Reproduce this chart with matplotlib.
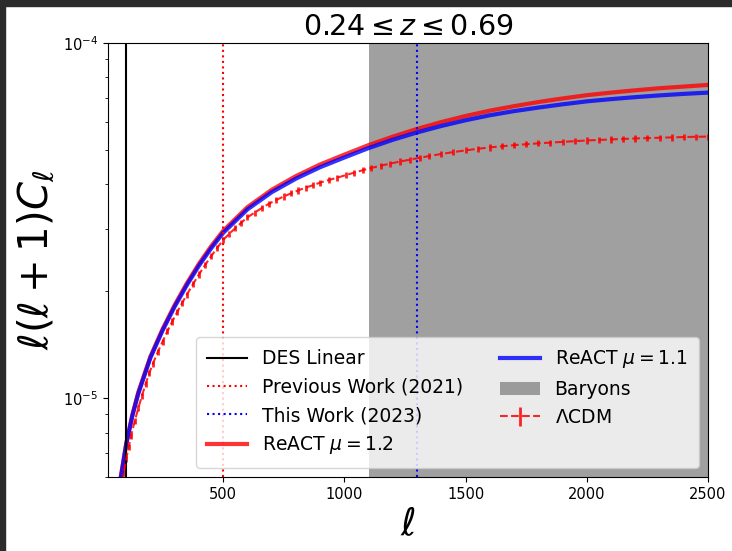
"""Lensing power spectrum, 0.24 <= z <= 0.69: ReACT mu=1.1/1.2 vs LCDM,
with the scale cuts and the baryon region marked.

    python plot.py
"""
import matplotlib
import numpy as np

matplotlib.use("Agg")
import matplotlib.pyplot as plt  # noqa: E402
from matplotlib.patches import Rectangle  # noqa: E402

# values, in units of 1e-5
ell_react = [50, 60, 75, 100, 125, 150, 200, 250, 300, 350, 400, 450, 500, 600,
             700, 800, 900, 1000, 1100, 1200, 1300, 1400, 1500, 1600, 1700, 1800,
             1900, 2000, 2100, 2200, 2300, 2400, 2500]
react_mu11 = [0.41, 0.48, 0.58, 0.74, 0.89, 1.03, 1.30, 1.55, 1.81, 2.08, 2.36, 2.64,
              2.92, 3.40, 3.80, 4.15, 4.47, 4.76, 5.06, 5.34, 5.60, 5.84, 6.06, 6.26,
              6.43, 6.58, 6.72, 6.85, 6.95, 7.04, 7.12, 7.19, 7.25]
react_mu12 = [0.41, 0.48, 0.585, 0.745, 0.895, 1.04, 1.31, 1.565, 1.83, 2.105, 2.39,
              2.675, 2.96, 3.45, 3.86, 4.22, 4.55, 4.85, 5.16, 5.45, 5.73, 5.99, 6.23,
              6.45, 6.64, 6.82, 6.98, 7.13, 7.25, 7.36, 7.46, 7.54, 7.62]

ell_lcdm = [60, 70, 80, 90, 100, 110, 120, 135, 150, 165, 180, 195, 210, 230, 250,
            270, 290, 310, 330, 350, 375, 400, 425, 450, 475, 500, 525, 550, 575, 600,
            630, 660, 690, 720, 750, 780, 810, 840, 870, 900, 935, 970, 1005, 1040,
            1075, 1110, 1150, 1190, 1230, 1270, 1310, 1350, 1400, 1450, 1500, 1550,
            1600, 1650, 1700, 1750, 1800, 1850, 1900, 1950, 2000, 2050, 2100, 2150,
            2200, 2250, 2300, 2350, 2400, 2450, 2500]
cl_lcdm = [0.437, 0.498, 0.557, 0.615, 0.673, 0.728, 0.783, 0.861, 0.937, 1.016, 1.095,
           1.176, 1.250, 1.347, 1.443, 1.543, 1.644, 1.745, 1.850, 1.955, 2.092, 2.230,
           2.369, 2.508, 2.648, 2.789, 2.903, 3.011, 3.121, 3.230, 3.330, 3.433, 3.531,
           3.618, 3.697, 3.774, 3.846, 3.916, 3.977, 4.045, 4.113, 4.175, 4.245, 4.314,
           4.382, 4.447, 4.514, 4.577, 4.640, 4.692, 4.752, 4.805, 4.871, 4.930, 4.987,
           5.036, 5.083, 5.120, 5.157, 5.188, 5.218, 5.243, 5.268, 5.292, 5.316, 5.334,
           5.352, 5.369, 5.386, 5.399, 5.411, 5.423, 5.436, 5.444, 5.452]
lcdm_rel_err = 0.02  # error bars are about +-2 %

ell_des_linear = 100
ell_previous = 500
ell_this_work = 1300
baryon_range = (1100, 2500)


def main() -> None:
    unit = 1e-5
    mu11 = np.array(react_mu11) * unit
    mu12 = np.array(react_mu12) * unit
    lcdm = np.array(cl_lcdm) * unit

    fig = plt.figure(figsize=(7.32, 5.51), dpi=100)
    ax = fig.add_axes([108 / 732, 1 - 477 / 551, 600 / 732, 434 / 551])

    # dark screenshot frame (top and left)
    fig.patches.append(Rectangle((0, 1 - 6 / 551), 1, 6 / 551, transform=fig.transFigure,
                                 color="#2b2b2b", zorder=10))
    fig.patches.append(Rectangle((0, 0), 5 / 732, 1, transform=fig.transFigure,
                                 color="#2b2b2b", zorder=10))

    bar = ax.axvspan(*baryon_range, color="gray", alpha=0.75, lw=0, label="Baryons")

    err = ax.errorbar(ell_lcdm, lcdm, yerr=lcdm * lcdm_rel_err, fmt="--", color="red",
                      alpha=0.85, lw=1.5, elinewidth=2, label=r"$\Lambda$CDM")
    l12, = ax.plot(ell_react, mu12, color="red", lw=3, alpha=0.8, label=r"ReACT $\mu = 1.2$")
    l11, = ax.plot(ell_react, mu11, color="blue", lw=3, alpha=0.8, label=r"ReACT $\mu = 1.1$")

    des = ax.axvline(ell_des_linear, color="black", lw=1.5, label="DES Linear")
    prev = ax.axvline(ell_previous, color="red", ls=":", lw=1.5, label="Previous Work (2021)")
    this = ax.axvline(ell_this_work, color="blue", ls=":", lw=1.5, label="This Work (2023)")

    ax.set_yscale("log")
    ax.set_xlim(25, 2500)
    ax.set_ylim(6e-6, 1e-4)
    ax.set_xticks([500, 1000, 1500, 2000, 2500])
    ax.tick_params(labelsize=10.5)

    ax.set_title(r"$0.24 \leq z \leq 0.69$", fontsize=20.5)
    ax.set_xlabel(r"$\ell$", fontsize=27)
    ax.set_ylabel(r"$\ell(\ell+1)C_\ell$", fontsize=29)

    ax.legend([des, prev, this, l12, l11, bar, err],
              [h.get_label() for h in (des, prev, this, l12, l11, bar, err)],
              ncol=2, loc="lower right", fontsize=13.5, handlelength=2.1,
              borderpad=0.6)

    fig.savefig("out.png", dpi=100)


if __name__ == "__main__":
    main()
